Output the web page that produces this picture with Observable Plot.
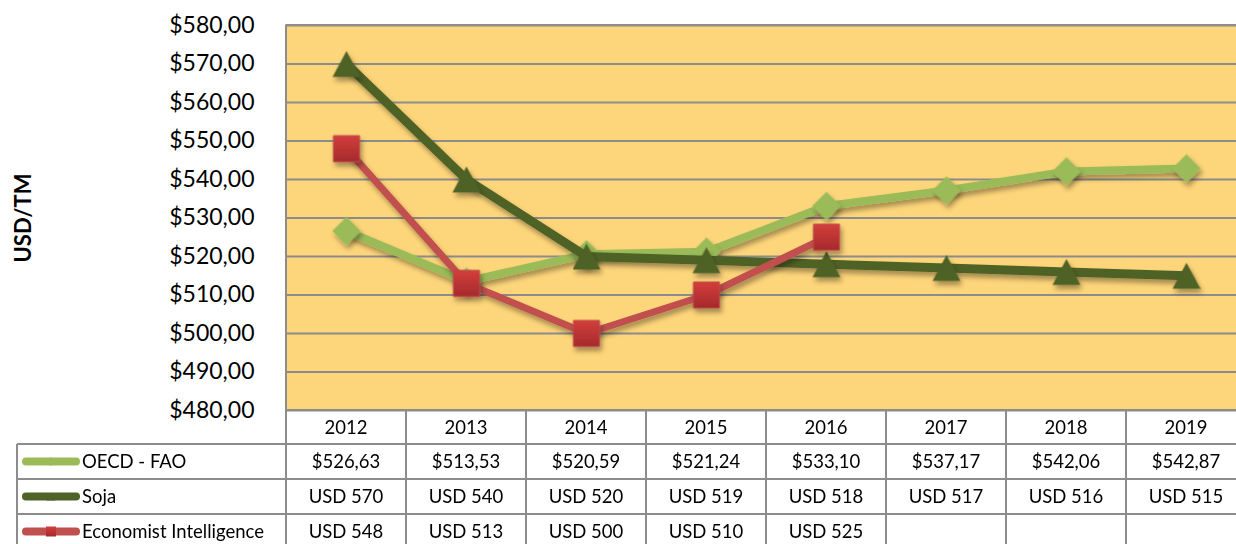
<!DOCTYPE html>
<html>
<head>
<meta charset="utf-8">
<script src="https://cdn.jsdelivr.net/npm/d3@7"></script>
<script src="https://cdn.jsdelivr.net/npm/@observablehq/plot@0.6"></script>
<style>
html,body{margin:0;padding:0;background:#fff;overflow:hidden;}
</style>
</head>
<body>
<div id="chart"></div>
<script>
// ---- data ----
const years = ["2012", "2013", "2014", "2015", "2016", "2017", "2018", "2019"];
const oecdFao = [526.63, 513.53, 520.59, 521.24, 533.10, 537.17, 542.06, 542.87];
const soja = [570, 540, 520, 519, 518, 517, 516, 515];
const economist = [548, 513, 500, 510, 525, null, null, null];
const seriesNames = ["OECD - FAO", "Soja", "Economist Intelligence"];
const seriesColors = ["#9BBB59", "#4F6228", "#C0504D"];
const yTicks = [480, 490, 500, 510, 520, 530, 540, 550, 560, 570, 580];
const yTitle = "USD/TM";

const fmtMoney = v => "$" + v.toFixed(2).replace(".", ",");
const fmtUsd = v => "USD " + v;
const seriesValues = [oecdFao, soja, economist];
const seriesFormats = [fmtMoney, fmtUsd, fmtUsd];

const toRows = (vals, name) =>
  years.map((year, i) => ({year, value: vals[i], series: name})).filter(d => d.value != null);
const oecdData = toRows(oecdFao, seriesNames[0]);
const sojaData = toRows(soja, seriesNames[1]);
const econData = toRows(economist, seriesNames[2]);

// triangle centred on its bounding box (as the spreadsheet draws it)
const boxTriangle = {
  draw(ctx, size) {
    const a = Math.sqrt(size / Math.PI);
    const hh = a * 0.93;
    ctx.moveTo(0, -hh);
    ctx.lineTo(a, hh);
    ctx.lineTo(-a, hh);
    ctx.closePath();
  }
};

const font = "Lato";

const plot = Plot.plot({
  width: 1236,
  height: 544,
  marginLeft: 285,
  marginRight: 0,
  marginTop: 25,
  marginBottom: 134,
  style: {fontFamily: font, background: "#fff", overflow: "hidden", color: "#000"},
  x: {type: "point", domain: years, range: [285, 1247], padding: 0.5},
  y: {domain: [480, 580]},
  marks: [
    Plot.frame({fill: "#FDD57A", stroke: "none"}),
    Plot.ruleY(yTicks, {stroke: "#8C8C8C", strokeWidth: 2}),
    Plot.axisY(yTicks, {tickSize: 0, tickPadding: 31, tickFormat: fmtMoney, fontSize: 23, fill: "#000", label: null}),
    Plot.axisX({ticks: [], label: null, tickSize: 0}),
    Plot.text([yTitle], {frameAnchor: "left", textAnchor: "middle", rotate: -90, dx: -262, fontSize: 22, fontWeight: "bold", fill: "#000"}),
    Plot.line(oecdData, {x: "year", y: "value", stroke: seriesColors[0], strokeWidth: 8}),
    Plot.dot(oecdData, {x: "year", y: "value", symbol: "diamond2", r: 12.8, fill: seriesColors[0], stroke: "none"}),
    Plot.line(sojaData, {x: "year", y: "value", stroke: seriesColors[1], strokeWidth: 9}),
    Plot.dot(sojaData, {x: "year", y: "value", symbol: boxTriangle, r: 14, fill: seriesColors[1], stroke: "none"}),
    Plot.line(econData, {x: "year", y: "value", stroke: seriesColors[2], strokeWidth: 7}),
    Plot.dot(econData, {x: "year", y: "value", symbol: "square", r: 14.7, fill: "url(#redGrad)", stroke: "#B9494A", strokeWidth: 1})
  ]
});

document.getElementById("chart").appendChild(plot);

// ---- defs: shadow + gradient ----
const svg = d3.select(plot);
const defs = svg.insert("defs", ":first-child");
const f = defs.append("filter").attr("id", "shadow").attr("x", "-20%").attr("y", "-20%").attr("width", "140%").attr("height", "140%");
f.append("feDropShadow").attr("dx", 2).attr("dy", 4).attr("stdDeviation", 2.5)
  .attr("flood-color", "#000").attr("flood-opacity", 0.35);
const g = defs.append("linearGradient").attr("id", "redGrad").attr("x1", 0).attr("y1", 0).attr("x2", 0).attr("y2", 1);
g.append("stop").attr("offset", "0%").attr("stop-color", "#D43E3C");
g.append("stop").attr("offset", "100%").attr("stop-color", "#A52A2C");
svg.selectAll('g[aria-label="line"], g[aria-label="dot"]').attr("filter", "url(#shadow)");

// ---- data table beneath the plot ----
const xs = plot.scale("x");
const ys = plot.scale("y");
const step = xs.apply(years[1]) - xs.apply(years[0]);
const tableTop = ys.apply(480);
const plotTop = ys.apply(580);
const rowH = [34, 35, 35, 35];
const rowEdges = [tableTop];
rowH.forEach(h => rowEdges.push(rowEdges[rowEdges.length - 1] + h));
const tableLeft = 17;
const labelRight = xs.apply(years[0]) - step / 2;
const tableRight = xs.apply(years[years.length - 1]) + step / 2;
const gridColor = "#8C8C8C";
const tg = svg.append("g").attr("aria-label", "table");

rowEdges.forEach((yv, i) => {
  tg.append("line").attr("x1", i === 0 ? labelRight : tableLeft).attr("x2", tableRight)
    .attr("y1", yv).attr("y2", yv).attr("stroke", gridColor).attr("stroke-width", 2);
});
tg.append("line").attr("x1", tableLeft).attr("x2", tableLeft).attr("y1", rowEdges[1]).attr("y2", rowEdges[4])
  .attr("stroke", gridColor).attr("stroke-width", 2);
tg.append("line").attr("x1", labelRight).attr("x2", labelRight).attr("y1", plotTop).attr("y2", rowEdges[4])
  .attr("stroke", gridColor).attr("stroke-width", 2);
years.forEach(yr => {
  const xr = xs.apply(yr) + step / 2;
  tg.append("line").attr("x1", xr).attr("x2", xr).attr("y1", rowEdges[0]).attr("y2", rowEdges[4])
    .attr("stroke", gridColor).attr("stroke-width", 2);
});
tg.append("line").attr("x1", labelRight).attr("x2", tableRight).attr("y1", plotTop).attr("y2", plotTop)
  .attr("stroke", gridColor).attr("stroke-width", 2);

const rowMid = i => (rowEdges[i] + rowEdges[i + 1]) / 2;
const addText = (x, y, txt, anchor) =>
  tg.append("text").attr("x", x).attr("y", y).attr("dy", "0.36em").attr("text-anchor", anchor)
    .attr("font-family", font).attr("font-size", 18.5).attr("fill", "#000").text(txt);

years.forEach(yr => addText(xs.apply(yr), rowMid(0), yr, "middle"));
seriesValues.forEach((vals, s) => {
  const cy = rowMid(s + 1);
  vals.forEach((v, i) => { if (v != null) addText(xs.apply(years[i]), cy, seriesFormats[s](v), "middle"); });
  tg.append("line").attr("x1", 26).attr("x2", 76).attr("y1", cy).attr("y2", cy)
    .attr("stroke", seriesColors[s]).attr("stroke-width", 8).attr("stroke-linecap", "round");
  const sym = [d3.symbolDiamond2, boxTriangle, d3.symbolSquare][s];
  const size = [50, 60, 100][s];
  tg.append("path").attr("d", d3.symbol(sym, size)()).attr("transform", `translate(51,${cy})`)
    .attr("fill", s === 2 ? "url(#redGrad)" : seriesColors[s]);
  addText(82, cy, seriesNames[s], "start");
});
</script>
</body>
</html>
